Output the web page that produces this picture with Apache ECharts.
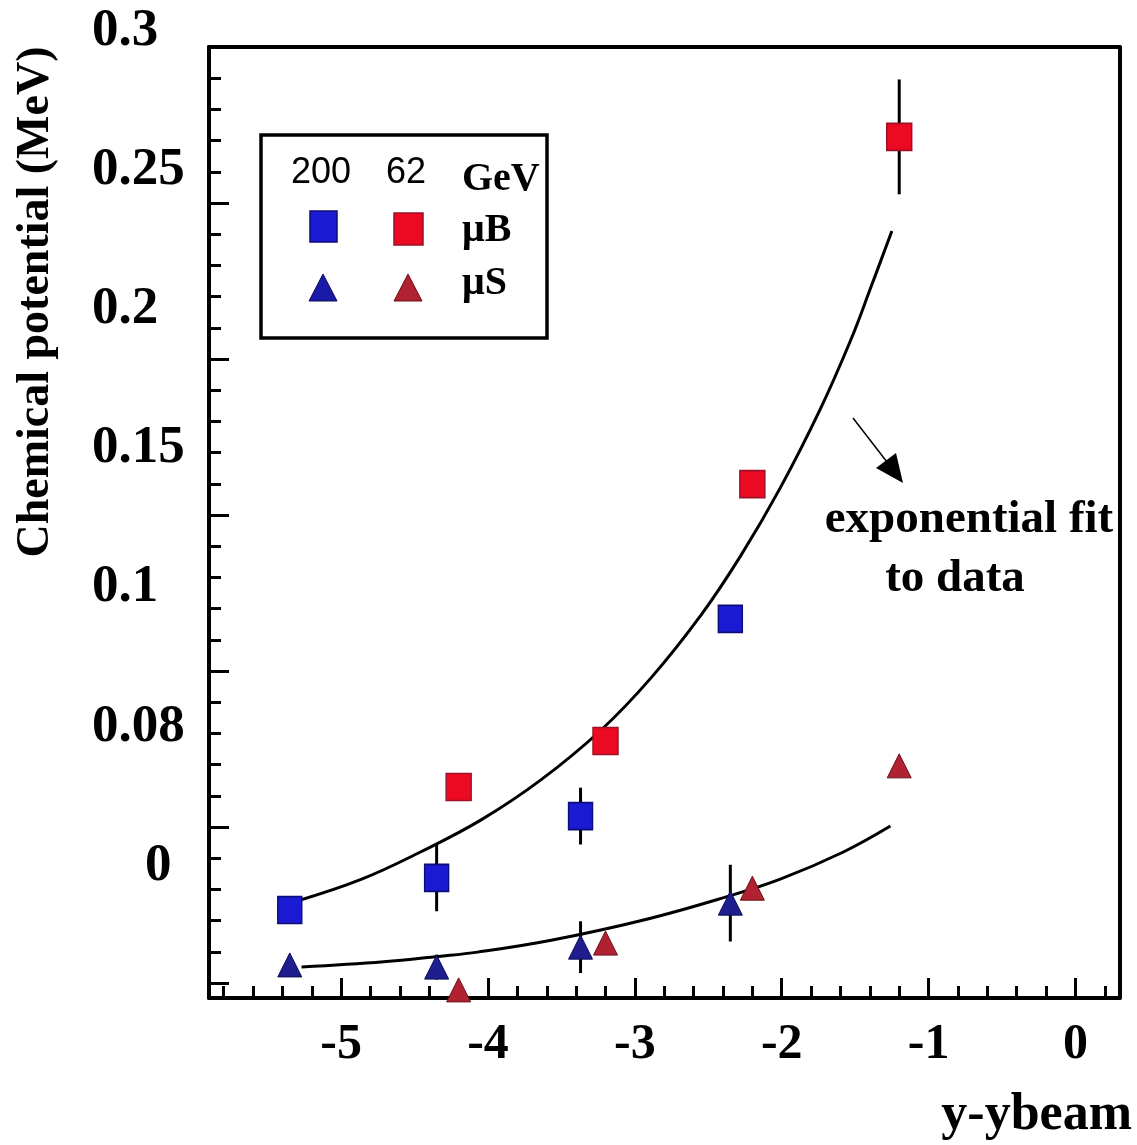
<!DOCTYPE html>
<html>
<head>
<meta charset="utf-8">
<script src="https://cdn.jsdelivr.net/npm/echarts@6/dist/echarts.min.js"></script>
<style>
  html, body { margin: 0; padding: 0; background: #fff; }
  #chart { width: 1137px; height: 1145px; }
</style>
</head>
<body>
<div id="chart"></div>
<script>
// Rapidity relative to the beam (y - ybeam)
const rapidity200 = [-5.35, -4.35, -3.37, -2.35];
const rapidity62 = [-4.2, -3.2, -2.2, -1.2];

// Baryon chemical potential
const muB200 = [0.0234, 0.0337, 0.0535, 0.1167];
const muB200Err = [0, 0.0107, 0.0091, 0];
const muB62 = [0.0628, 0.0776, 0.1599, 0.2712];
const muB62Err = [0, 0, 0, 0.0184];

// Strangeness chemical potential
const muS200 = [0.0058, 0.0051, 0.0115, 0.0256];
const muS200Err = [0, 0.004, 0.0083, 0.0123];
const muS62 = [-0.0022, 0.0128, 0.0304, 0.0696];
const muS62Err = [0, 0, 0, 0];

// Exponential fit curves
const fitMuBX = [-5.30, -4.86, -4.46, -4.05, -3.64, -3.23, -2.89, -2.55, -2.28, -2.01, -1.74, -1.53, -1.40, -1.25];
const fitMuBY = [0.0263, 0.0333, 0.0420, 0.0522, 0.0651, 0.0811, 0.0978, 0.1179, 0.1369, 0.1587, 0.1837, 0.2061, 0.2221, 0.2410];
const fitMuSX = [-5.27, -4.71, -4.34, -4.07, -3.57, -2.94, -2.40, -2.01, -1.58, -1.26];
const fitMuSY = [0.0051, 0.0068, 0.0085, 0.0099, 0.0137, 0.0202, 0.0273, 0.0333, 0.0420, 0.0503];

// Axis ticks and labels
const xMajorTicks = [-5, -4, -3, -2, -1, 0];
const yMajorTicks = [0, 0.05, 0.1, 0.15, 0.2, 0.25, 0.3];
const yLabelTexts = ['0', '0.08', '0.1', '0.15', '0.2', '0.25', '0.3'];

const xMinorTicks = [];
for (let i = -29; i <= 1; i++) {
  if (i % 5 !== 0) xMinorTicks.push(+(i * 0.2).toFixed(2));
}
const yMinorTicks = [];
for (let i = 1; i < 30; i++) {
  if (i % 5 !== 0) yMinorTicks.push(+(i * 0.01).toFixed(2));
}

const SERIF = '"Liberation Serif", "Times New Roman", serif';
const BLUE = '#1a1ad2', BLUE_EDGE = '#0c0c78';
const RED = '#ec0a22', RED_EDGE = '#9c1028';
const NAVY = '#1e1e8e', NAVY_EDGE = '#0e0e55';
const MAROON = '#b02232', MAROON_EDGE = '#6a1018';

const zip = (xs, ys) => xs.map((x, i) => [x, ys[i]]);
const zip3 = (xs, ys, es) => xs.map((x, i) => [x, ys[i], es[i]]);

const chart = echarts.init(document.getElementById('chart'), null, { renderer: 'canvas' });

const frameLine = { show: true, onZero: false, lineStyle: { color: '#000', width: 4 } };
const noLine = { show: false, onZero: false };

const errorBars = {
  type: 'custom',
  xAxisIndex: 0,
  yAxisIndex: 0,
  z: 3,
  renderItem: function (params, api) {
    const x = api.value(0), y = api.value(1), e = api.value(2);
    if (!e) return null;
    const lo = api.coord([x, y - e]);
    const hi = api.coord([x, y + e]);
    return {
      type: 'line',
      shape: { x1: lo[0], y1: lo[1], x2: hi[0], y2: hi[1] },
      style: { stroke: '#000', lineWidth: 3 }
    };
  }
};

const option = {
  animation: false,
  backgroundColor: '#fff',
  grid: [
    { left: 209, right: 17.5, top: 47, bottom: 147 },
    { left: 92, width: 10, top: 31, bottom: 278.8 }
  ],
  xAxis: [
    {
      gridIndex: 0, type: 'value', min: -5.9, max: 0.3, position: 'bottom',
      axisLine: frameLine,
      axisTick: { show: true, inside: true, length: 20, customValues: xMajorTicks, lineStyle: { color: '#000', width: 3 } },
      axisLabel: {
        show: true, customValues: xMajorTicks, margin: 22,
        formatter: v => String(v),
        fontFamily: SERIF, fontWeight: 'bold', fontSize: 50, color: '#000'
      },
      splitLine: { show: false }
    },
    {
      gridIndex: 0, type: 'value', min: -5.9, max: 0.3, position: 'bottom',
      axisLine: noLine,
      axisTick: { show: true, inside: true, length: 12, customValues: xMinorTicks, lineStyle: { color: '#000', width: 3 } },
      axisLabel: { show: false },
      splitLine: { show: false }
    },
    {
      gridIndex: 0, type: 'value', min: -5.9, max: 0.3, position: 'top',
      axisLine: frameLine, axisTick: { show: false }, axisLabel: { show: false }, splitLine: { show: false }
    },
    { gridIndex: 1, type: 'value', show: false }
  ],
  yAxis: [
    {
      gridIndex: 0, type: 'value', min: -0.0048, max: 0.3, position: 'left',
      axisLine: frameLine,
      axisTick: { show: true, inside: true, length: 20, customValues: yMajorTicks, lineStyle: { color: '#000', width: 3 } },
      axisLabel: { show: false },
      splitLine: { show: false }
    },
    {
      gridIndex: 0, type: 'value', min: -0.0048, max: 0.3, position: 'left',
      axisLine: noLine,
      axisTick: { show: true, inside: true, length: 12, customValues: yMinorTicks, lineStyle: { color: '#000', width: 3 } },
      axisLabel: { show: false },
      splitLine: { show: false }
    },
    {
      gridIndex: 0, type: 'value', min: -0.0048, max: 0.3, position: 'right',
      axisLine: frameLine, axisTick: { show: false }, axisLabel: { show: false }, splitLine: { show: false }
    },
    {
      gridIndex: 1, type: 'value', min: 0, max: 0.3, interval: 0.05, position: 'left',
      axisLine: noLine, axisTick: { show: false }, splitLine: { show: false },
      axisLabel: {
        show: true, margin: 0, align: 'left',
        formatter: function (v) {
          const i = Math.round(v / 0.05);
          const t = yLabelTexts[i];
          if (t === undefined) return '';
          return i === 0 ? '{z|' + t + '}' : '{n|' + t + '}';
        },
        rich: {
          n: { fontFamily: SERIF, fontWeight: 'bold', fontSize: 53, color: '#000' },
          z: { fontFamily: SERIF, fontWeight: 'bold', fontSize: 53, color: '#000', padding: [0, 0, 0, 53] }
        }
      }
    }
  ],
  series: [
    {
      name: 'fit μB', type: 'line', xAxisIndex: 0, yAxisIndex: 0,
      data: zip(fitMuBX, fitMuBY), smooth: 0.4, symbol: 'none', z: 2,
      lineStyle: { color: '#000', width: 3 }
    },
    {
      name: 'fit μS', type: 'line', xAxisIndex: 0, yAxisIndex: 0,
      data: zip(fitMuSX, fitMuSY), smooth: 0.4, symbol: 'none', z: 2,
      lineStyle: { color: '#000', width: 3 }
    },
    Object.assign({ name: 'err μB 200' }, errorBars, { data: zip3(rapidity200, muB200, muB200Err) }),
    Object.assign({ name: 'err μB 62' }, errorBars, { data: zip3(rapidity62, muB62, muB62Err) }),
    Object.assign({ name: 'err μS 200' }, errorBars, { data: zip3(rapidity200, muS200, muS200Err) }),
    Object.assign({ name: 'err μS 62' }, errorBars, { data: zip3(rapidity62, muS62, muS62Err) }),
    {
      name: 'μB 200 GeV', type: 'scatter', xAxisIndex: 0, yAxisIndex: 0, z: 4,
      data: zip(rapidity200, muB200), symbol: 'rect', symbolSize: [24, 27],
      itemStyle: { color: BLUE, borderColor: BLUE_EDGE, borderWidth: 1.5, opacity: 1 }
    },
    {
      name: 'μB 62 GeV', type: 'scatter', xAxisIndex: 0, yAxisIndex: 0, z: 4,
      data: zip(rapidity62, muB62), symbol: 'rect', symbolSize: [25, 27],
      itemStyle: { color: RED, borderColor: RED_EDGE, borderWidth: 1.5, opacity: 1 }
    },
    {
      name: 'μS 200 GeV', type: 'scatter', xAxisIndex: 0, yAxisIndex: 0, z: 4,
      data: zip(rapidity200, muS200), symbol: 'triangle', symbolSize: [24, 24],
      itemStyle: { color: NAVY, borderColor: NAVY_EDGE, borderWidth: 1, opacity: 1 }
    },
    {
      name: 'μS 62 GeV', type: 'scatter', xAxisIndex: 0, yAxisIndex: 0, z: 4,
      data: zip(rapidity62, muS62), symbol: 'triangle', symbolSize: [24, 24],
      itemStyle: { color: MAROON, borderColor: MAROON_EDGE, borderWidth: 1, opacity: 1 }
    }
  ],
  graphic: [
    // axis titles
    {
      type: 'text', x: 36, y: 302, rotation: Math.PI / 2,
      style: { text: 'Chemical potential (MeV)', font: 'bold 46px ' + SERIF, fill: '#000', align: 'center', verticalAlign: 'middle' }
    },
    {
      type: 'text', x: 1132, y: 1116,
      style: { text: 'y-ybeam', font: 'bold 52px ' + SERIF, fill: '#000', align: 'right', verticalAlign: 'middle' }
    },
    // annotation with arrow
    {
      type: 'text', x: 969, y: 520,
      style: { text: 'exponential fit', font: 'bold 47px ' + SERIF, fill: '#000', align: 'center', verticalAlign: 'middle' }
    },
    {
      type: 'text', x: 955, y: 579,
      style: { text: 'to data', font: 'bold 47px ' + SERIF, fill: '#000', align: 'center', verticalAlign: 'middle' }
    },
    {
      type: 'line', shape: { x1: 853, y1: 418, x2: 887, y2: 462 },
      style: { stroke: '#000', lineWidth: 1.5 }
    },
    {
      type: 'polygon', shape: { points: [[903, 483], [896, 453], [876, 468]] },
      style: { fill: '#000' }
    },
    // key box
    {
      type: 'rect', shape: { x: 261, y: 135, width: 286, height: 203 },
      style: { fill: '#fff', stroke: '#000', lineWidth: 3.5 }, z: 10
    },
    {
      type: 'text', x: 321, y: 173, z: 11,
      style: { text: '200', font: '36px "Liberation Sans", Arial, sans-serif', fill: '#000', align: 'center', verticalAlign: 'middle' }
    },
    {
      type: 'text', x: 406, y: 173, z: 11,
      style: { text: '62', font: '36px "Liberation Sans", Arial, sans-serif', fill: '#000', align: 'center', verticalAlign: 'middle' }
    },
    {
      type: 'text', x: 462, y: 180, z: 11,
      style: { text: 'GeV', font: 'bold 40px ' + SERIF, fill: '#000', align: 'left', verticalAlign: 'middle' }
    },
    {
      type: 'text', x: 462, y: 231, z: 11,
      style: { text: 'μB', font: 'bold 40px ' + SERIF, fill: '#000', align: 'left', verticalAlign: 'middle' }
    },
    {
      type: 'text', x: 462, y: 284, z: 11,
      style: { text: 'μS', font: 'bold 40px ' + SERIF, fill: '#000', align: 'left', verticalAlign: 'middle' }
    },
    {
      type: 'rect', shape: { x: 310, y: 211, width: 27, height: 31 }, z: 11,
      style: { fill: BLUE, stroke: BLUE_EDGE, lineWidth: 1.5 }
    },
    {
      type: 'rect', shape: { x: 394, y: 213, width: 29, height: 32 }, z: 11,
      style: { fill: RED, stroke: RED_EDGE, lineWidth: 1.5 }
    },
    {
      type: 'polygon', shape: { points: [[323, 274], [309, 301], [337, 301]] }, z: 11,
      style: { fill: '#1a1aa8', stroke: NAVY_EDGE, lineWidth: 1 }
    },
    {
      type: 'polygon', shape: { points: [[408, 274], [394, 301], [422, 301]] }, z: 11,
      style: { fill: MAROON, stroke: MAROON_EDGE, lineWidth: 1 }
    }
  ]
};

chart.setOption(option);
</script>
</body>
</html>
